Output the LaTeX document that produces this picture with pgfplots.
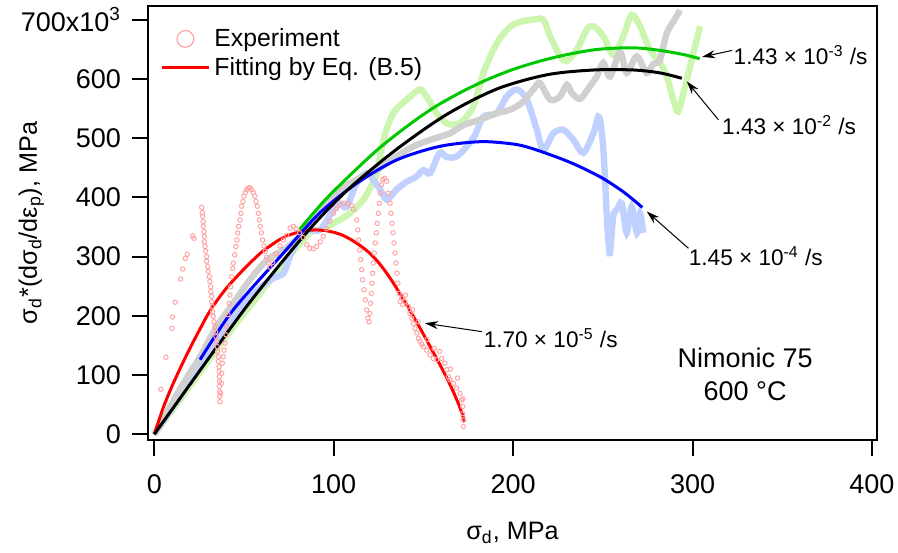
\documentclass[border=0pt]{standalone}
\usepackage{fontspec}
\setmainfont{Liberation Sans}
\usepackage{pgfplots}
\pgfplotsset{compat=1.18}
\usetikzlibrary{arrows.meta}
\definecolor{lgreen}{RGB}{204,245,176}
\definecolor{lblue}{RGB}{192,208,255}
\definecolor{lgray}{RGB}{208,208,208}
\definecolor{lred}{RGB}{255,165,165}
\definecolor{fgreen}{RGB}{0,200,0}
\begin{document}
\begin{tikzpicture}
\begin{axis}[
  scale only axis, width=364.5pt, height=217pt,
  xmin=-3.5, xmax=402.8, ymin=-9.6, ymax=723,
  axis line style={line width=1pt},
  tick style={line width=1pt, black},
  major tick length=8pt,
  tick align=outside,
  tick pos=left,
  xtick={0,100,200,300,400},
  ytick={0,100,200,300,400,500,600,700},
  yticklabels={0,100,200,300,400,500,600,700x10\textsuperscript{3}},
  /pgf/number format/assume math mode=true,
  ticklabel style={font=\fontsize{13.5}{16}\selectfont},
  xticklabel style={yshift=-6pt},
  yticklabel style={xshift=-2pt},
  xlabel={σ\textsubscript{d}, MPa},
  ylabel={σ\textsubscript{d}*(dσ\textsubscript{d}/dε\textsubscript{p}), MPa},
  label style={font=\fontsize{12.6}{15}\selectfont},
  xlabel style={at={(axis description cs:0.5,-0.2145)}, anchor=center},
  ylabel style={at={(axis description cs:-0.16,0.5)}, anchor=center},
  legend style={draw=none, fill=none, at={(axis description cs:0,1)}, anchor=north west,
    xshift=3pt, yshift=-7pt, font=\fontsize{12.4}{14}\selectfont, row sep=0pt},
  legend cell align=left,
]
% experimental bands
\addplot[lgreen, line width=3.2pt, smooth, forget plot] coordinates {
(0,0) (20,82) (40,165) (60,242) (75,300) (86.7,340) (92,345) (99.8,356) (109,373) (116.5,396) (121,420) (124,440) (127.7,497) (133.2,542) (140.7,565) (148,582) (151.8,570) (157.4,542) (163,525) (170,525) (177.8,553) (183.4,610) (190.9,660) (198.3,688) (205,697) (211.3,700) (216.8,700) (220.6,672) (226.3,638) (229.9,630) (235.4,649) (241,683) (244.7,689) (250.3,672) (255.8,641) (261.4,672) (266,708) (270.7,689) (276.2,649) (282,627) (285.6,604) (289.3,565) (292,545) (295.8,587) (299.5,632) (302.3,666) (304.2,689)
};
\addplot[lblue, line width=3.2pt, smooth, forget plot] coordinates {
(0,0) (10,45) (20,90) (30,135) (40,178) (50,220) (60,250) (66,263) (72,272) (75.6,300) (81.2,334) (86.7,345) (92.4,345) (99.8,379) (103.4,390) (107.2,384) (112.8,424) (118.4,441) (122,430) (126,413) (129.5,396) (135,413) (140,425) (146,435) (150,446) (153.7,441) (159,475) (163,468) (169,470) (177.8,500) (183.4,536) (190.9,542) (196.4,570) (202,582) (207.6,565) (213.2,514) (216.8,480) (222.4,508) (228,514) (233.6,497) (239.1,475) (244.7,508) (247.5,536) (249,520) (250.3,480) (251.3,424) (252.2,368) (253.1,328) (254,306) (255.8,368) (258,380) (260.5,390) (263.3,340) (266,384) (269,340) (270.7,373) (272.5,340)
};
\addplot[lgray, line width=3.2pt, smooth, forget plot] coordinates {
(0,0) (8,42) (16.2,86) (25.5,131) (34.8,182) (44,221) (53.3,261) (62.7,294) (71.9,311) (81.2,334) (86.8,362) (94.2,385) (103.5,413) (112.8,430) (124,446) (135,469) (144.4,486) (153.7,497) (164.8,508) (172.3,522) (181.5,531) (190.8,542) (198.3,548) (205,560) (212,585) (215,593) (220.6,565) (226,570) (229.9,590) (233,575) (237.3,566) (241,580) (246.6,604) (250.3,627) (254,604) (259.6,645) (263.3,610) (268.9,638) (274.4,610) (278,625) (281.8,632) (285.6,677) (290,700) (293,716)
};
% experiment at 1.70e-5 /s
\addplot[only marks, mark=o, mark size=1.1pt, lred, mark options={line width=0.5pt},
  legend image code/.code={\draw[lred, line width=0.6pt] (11.75pt,0pt) circle (4.2pt);}] coordinates {
(3.7,76) (6.5,130) (9.9,179) (10.2,198) (11.7,223) (14.7,262) (15.8,279) (17.3,297) (18.4,304) (21.4,335) (22.1,331)
(26.4,383) (26.8,374) (27.0,368) (27.3,359) (27.3,351) (27.7,342) (27.9,334) (27.9,325) (28.3,317) (28.6,309) (29.2,300) (29.2,292) (29.7,283) (30.1,275) (30.7,266) (31.0,258) (31.4,249) (31.6,241) (32.0,233) (32.0,224) (32.3,216) (32.5,207) (32.9,199) (33.3,190) (33.8,182) (34.2,173) (34.4,165) (34.8,157) (35.1,148) (35.3,140) (35.7,131) (35.7,123) (36.1,114) (36.1,106) (36.3,97) (36.3,89) (36.3,81) (36.4,72) (36.4,64) (36.6,55)
(37.0,69) (37.4,86) (37.6,103) (37.9,120) (38.5,131) (38.8,142) (39.4,154) (40.0,168) (40.3,182) (41.1,202) (41.8,221) (42.2,235) (42.6,249) (43.1,266) (43.7,280) (44.1,289) (44.8,303) (45.5,317) (46.1,328) (46.5,340) (47.0,351) (47.8,362) (48.3,373) (48.7,385) (49.4,393) (50.0,402) (50.7,408) (51.5,413) (52.4,416) (53.3,416) (54.3,413) (55.2,408) (56.1,402) (56.7,393) (57.4,385) (58.0,373) (58.5,362) (59.1,351) (59.7,340) (60.4,328) (61.1,318) (61.9,309) (62.6,299) (63.6,289) (64.5,282)
(66,290) (68,305) (70,318) (72,328) (73.8,336) (75.7,348) (77.5,351) (79,347) (81,340) (83,332) (85,320) (86.7,314) (88.6,313) (90.5,317) (92.5,325) (94.2,334) (96,347) (97.8,360) (99.8,373) (101.5,381) (103.4,387) (105.5,390) (108.1,390) (110,386) (111,380) (112.8,362)
(113.4,345) (113.9,328) (114.5,311) (115.0,295) (115.6,278) (116.1,261) (116.9,244) (117.6,227) (118.4,210) (119.1,196) (119.7,190)
(120.2,204) (120.6,221) (121.0,238) (121.3,255) (121.7,272) (122.1,289) (122.6,306) (123.2,323) (123.8,340) (124.3,356) (124.9,373) (125.4,390) (126.0,407) (126.6,421) (127.3,430) (128.4,432) (129.5,427)
(130.5,407) (131.4,390) (131.9,373) (132.5,356) (133.1,340) (133.6,323) (134.2,306) (134.7,289) (135.3,272) (135.8,255) (136.4,238) (137.0,224) (138.4,219)
(137.9,230) (139.7,224) (141.6,216) (142.5,204) (143.5,196) (144.4,187) (145.3,179) (146.3,171) (147.2,162) (148.1,157) (149,152) (150.0,148) (151.8,142) (153.7,134) (155.5,128) (157.4,126) (160.2,128) (162.0,120) (163.0,109) (163.9,97) (164.8,92) (166.7,86) (168.5,78) (170.4,69) (171.3,58) (171.9,47) (171.9,35) (172.3,24) (172.3,13)
(140,235) (144,210) (147,190) (152,160) (156,145) (159,140) (165,110) (169,95) (172,60)
};
\addlegendentry{Experiment}
% fits
\addplot[red, line width=1.5pt, smooth,
  legend image code/.code={\draw[red, line width=1.5pt] (0pt,0pt) -- (23.5pt,0pt);}] coordinates {
(0,0) (5,45) (10,82) (15,115) (20,146) (25,175) (30,203) (35,226) (40,246) (45,263) (50,279) (55,294) (60,308) (65,319) (70,329) (75,336) (80,341) (85,344) (90,345) (95,344) (100,341) (105,336) (110,328) (115,318) (120,306) (125,290) (130,270) (135,247) (140,222) (145,196) (150,169) (155,141) (160,113) (165,83) (170,48) (173,21)
};
\addlegendentry{Fitting by Eq. (B.5)}
\addplot[blue, line width=1.5pt, smooth, forget plot] coordinates {
(25.5,126) (44,210) (72,306) (92,373) (113,424) (135,463) (159,486) (182,494) (200,490) (210,483) (226,466) (237,452) (250,432) (262,408) (272,383)
};
\addplot[fgreen, line width=1.5pt, smooth, forget plot] coordinates {
(81,346) (95,395) (110,440) (125,482) (140,518) (155,550) (170,576) (185,598) (200,616) (215,630) (230,641) (245,649) (258,652) (270,652) (282,648) (295,641) (304,634)
};
\addplot[black, line width=1.5pt, smooth, forget plot] coordinates {
(0,0) (17,72) (35,148) (53,222) (72,294) (90,358) (109,416) (135,481) (163,540) (191,583) (219,607) (245,615) (267,615) (282,610) (294,601)
};
% annotations
\begin{scope}[font=\fontsize{11.3}{13}\selectfont]
\node[anchor=base west, inner sep=0pt] at (axis cs:322.7,624) {1.43 × 10\textsuperscript{-3} /s};
\node[anchor=base west, inner sep=0pt] at (axis cs:316.3,505.6) {1.43 × 10\textsuperscript{-2} /s};
\node[anchor=base west, inner sep=0pt] at (axis cs:297.7,285.6) {1.45 × 10\textsuperscript{-4} /s};
\node[anchor=base west, inner sep=0pt] at (axis cs:183.4,147) {1.70 × 10\textsuperscript{-5} /s};
\end{scope}
\draw[-{Stealth[length=6.5pt,width=4pt]}, line width=0.5pt] (axis cs:322,648) -- (axis cs:305.3,637);
\draw[-{Stealth[length=6.5pt,width=4pt]}, line width=0.5pt] (axis cs:314.4,531) -- (axis cs:296.8,595.6);
\draw[-{Stealth[length=6.5pt,width=4pt]}, line width=0.5pt] (axis cs:297.7,314) -- (axis cs:274.5,376);
\draw[-{Stealth[length=6.5pt,width=4pt]}, line width=0.5pt] (axis cs:182.5,173.3) -- (axis cs:150.9,187.5);
\node[align=center, font=\fontsize{13.5}{16.5}\selectfont] at (axis cs:329.3,102) {Nimonic 75\\600 °C};
\end{axis}
\pgfresetboundingbox
\path[use as bounding box] ([shift={(-74pt,-56pt)}]current axis.south west) rectangle ([shift={(10.5pt,3pt)}]current axis.north east);
\end{tikzpicture}
\end{document}
